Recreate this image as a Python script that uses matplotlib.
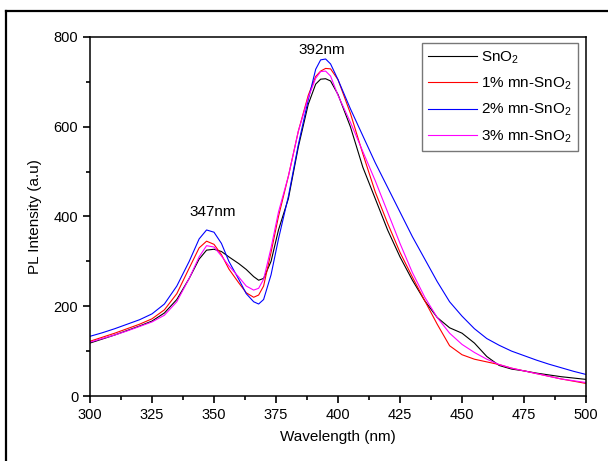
import matplotlib
matplotlib.use("Agg")
import matplotlib.pyplot as plt
from matplotlib.lines import Line2D
from matplotlib.ticker import MultipleLocator

plt.rcParams['font.family'] = ['Liberation Sans', 'DejaVu Sans']
plt.rcParams['mathtext.fontset'] = 'custom'
plt.rcParams['mathtext.rm'] = 'Liberation Sans'

wavelength = [300, 305, 310, 315, 320, 325, 330, 335, 340, 344, 347, 350, 353, 356,
              360, 363, 366, 368, 370, 373, 376, 380, 384, 388, 391, 393, 395, 397,
              400, 405, 410, 415, 420, 425, 430, 435, 440, 445, 450, 455, 460, 465,
              470, 475, 480, 485, 490, 495, 500]

sno2 = [118, 127, 136, 146, 156, 167, 185, 215, 262, 305, 325, 327, 322, 310,
        295, 282, 266, 258, 262, 300, 370, 440, 555, 650, 695, 706, 707, 702,
        672, 600, 510, 440, 370, 310, 258, 212, 175, 152, 140, 118, 88, 68,
        60, 56, 51, 47, 43, 40, 37]

mn1 = [122, 131, 140, 150, 160, 172, 192, 228, 285, 330, 345, 338, 315, 283,
       252, 230, 220, 225, 245, 320, 400, 490, 590, 670, 712, 724, 730, 729,
       705, 630, 540, 455, 385, 320, 265, 212, 160, 112, 92, 82, 76, 70,
       62, 56, 50, 44, 38, 33, 28]

mn2 = [133, 141, 150, 160, 170, 183, 205, 245, 300, 350, 370, 365, 340, 300,
       260, 228, 210, 205, 215, 270, 350, 445, 560, 660, 728, 749, 751, 740,
       705, 640, 580, 520, 465, 410, 355, 305, 255, 210, 178, 150, 128, 113,
       100, 90, 80, 71, 63, 55, 48]

mn3 = [120, 128, 136, 145, 155, 165, 180, 210, 262, 310, 335, 332, 312, 290,
       265, 245, 236, 240, 260, 330, 410, 490, 590, 665, 708, 723, 724, 713,
       670, 610, 545, 480, 410, 340, 275, 220, 175, 140, 115, 97, 82, 70,
       62, 56, 50, 44, 38, 34, 30]

labels = [r'SnO$\mathregular{_2}$', r'1% mn-SnO$\mathregular{_2}$',
          r'2% mn-SnO$\mathregular{_2}$', r'3% mn-SnO$\mathregular{_2}$']
colors = ['black', '#ff0000', '#0000ff', '#ff00ff']

fig = plt.figure(figsize=(6.08, 4.61), dpi=100)
ax = fig.add_axes([90 / 608, 1 - 396 / 461, 496 / 608, 359 / 461])

for ys, lab, c in zip([sno2, mn1, mn2, mn3], labels, colors):
    ax.plot(wavelength, ys, color=c, lw=0.8, label=lab)

ax.set_xlim(300, 500)
ax.set_ylim(0, 800)
ax.xaxis.set_major_locator(MultipleLocator(25))
ax.xaxis.set_minor_locator(MultipleLocator(12.5))
ax.yaxis.set_major_locator(MultipleLocator(200))
ax.yaxis.set_minor_locator(MultipleLocator(100))
ax.tick_params(which='both', direction='out', width=1.2, labelsize=10.5)
ax.tick_params(which='major', length=5)
ax.tick_params(which='minor', length=3)
for s in ax.spines.values():
    s.set_linewidth(1.1)

ax.set_xlabel('Wavelength (nm)', fontsize=11, labelpad=6)
ax.set_ylabel('PL Intensity (a.u)', fontsize=11, labelpad=8)

ax.text(393.5, 770, '392nm', ha='center', va='center', fontsize=11)
ax.text(349.5, 410, '347nm', ha='center', va='center', fontsize=11)

leg = ax.legend(loc='upper right', fontsize=11, frameon=True, fancybox=False,
                handlelength=3.2, handletextpad=0.3, borderpad=0.4,
                labelspacing=0.65, borderaxespad=0,
                bbox_to_anchor=(0.984, 0.983))
leg.get_frame().set_edgecolor('#555555')
leg.get_frame().set_linewidth(1.0)

# outer frame, cut off at right and bottom like the source image
fig.add_artist(Line2D([6 / 608, 6 / 608], [0, 1 - 11.5 / 461], color='black', lw=1.6,
                      transform=fig.transFigure))
fig.add_artist(Line2D([6 / 608, 1], [1 - 11.5 / 461, 1 - 11.5 / 461], color='black', lw=1.6,
                      transform=fig.transFigure))

fig.savefig('out.png', dpi=100)
